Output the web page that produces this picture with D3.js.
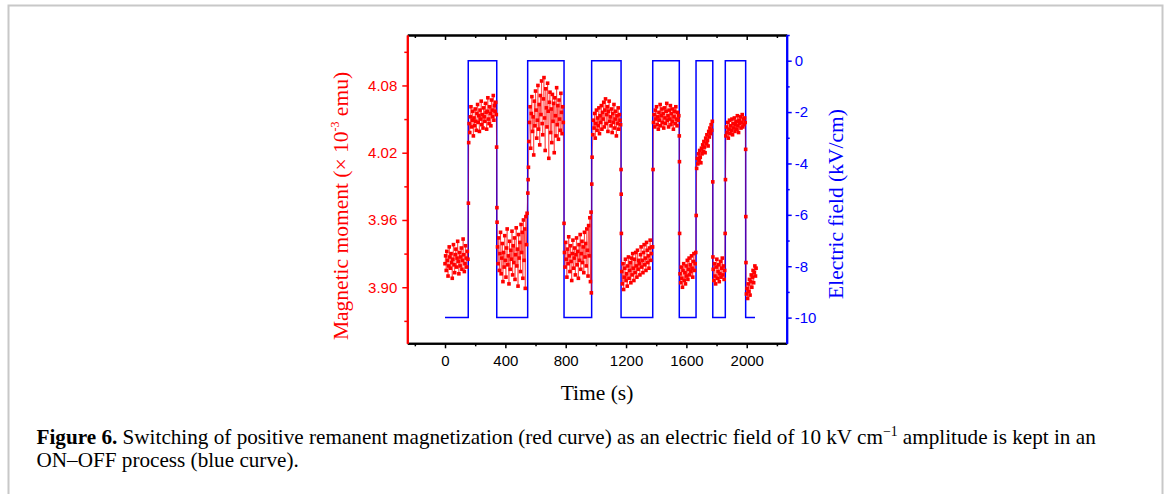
<!DOCTYPE html>
<html><head><meta charset="utf-8">
<script src="https://cdn.jsdelivr.net/npm/d3@7"></script>
<style>body{margin:0;background:#fff} svg{display:block}</style>
</head><body><svg id="c" width="1168" height="494"></svg>
<script>
// ---- data ----
const time = [
  0,4,8,12,16,20,24,28,32,36,40,44,48,52,56,60,64,68,72,76,80,84,88,92,96,100,104,108,112,116,120,124,128,132,136,140,144,148,152,
  155,157,
  160,164,168,172,176,180,184,188,192,196,200,204,208,212,216,220,224,228,232,236,240,244,248,252,256,260,264,268,272,276,280,284,288,292,296,300,304,308,312,316,320,324,328,332,336,340,
  342,344,345,
  348,352,356,360,364,368,372,376,380,384,388,392,396,400,404,408,412,416,420,424,428,432,436,440,444,448,452,456,460,464,468,472,476,480,484,488,492,496,500,504,508,512,516,520,524,528,532,536,540,544,
  549,551,553,
  556,560,564,568,572,576,580,584,588,592,596,600,604,608,612,616,620,624,628,632,636,640,644,648,652,656,660,664,668,672,676,680,684,688,692,696,700,704,708,712,716,720,724,728,732,736,740,744,748,752,756,760,764,768,772,776,780,784,
  789,
  792,796,800,804,808,812,816,820,824,828,832,836,840,844,848,852,856,860,864,868,872,876,880,884,888,892,896,900,904,908,912,916,920,924,928,932,936,940,944,948,952,956,960,964,968,
  970,973,975,
  980,984,988,992,996,1000,1004,1008,1012,1016,1020,1024,1028,1032,1036,1040,1044,1048,1052,1056,1060,1064,1068,1072,1076,1080,1084,1088,1092,1096,1100,1104,1108,1112,1116,1120,1124,1128,1132,1136,1140,1144,1148,1152,1156,1160,1164,
  1167,1168,1169,
  1172,1176,1180,1184,1188,1192,1196,1200,1204,1208,1212,1216,1220,1224,1228,1232,1236,1240,1244,1248,1252,1256,1260,1264,1268,1272,1276,1280,1284,1288,1292,1296,1300,1304,1308,1312,1316,1320,1324,1328,1332,1336,1340,1344,1348,1352,1356,1360,1364,1368,1372,
  1376,1379,
  1382,1386,1390,1394,1398,1402,1406,1410,1414,1418,1422,1426,1430,1434,1438,1442,1446,1450,1454,1458,1462,1466,1470,1474,1478,1482,1486,1490,1494,1498,1502,1506,1510,1514,1518,1522,1526,1530,1534,1538,1542,1546,1550,
  1553,1554,1555,
  1558,1562,1566,1570,1574,1578,1582,1586,1590,1594,1598,1602,1606,1610,1614,1618,1622,1626,1630,1634,1638,1642,1646,1650,1654,1658,1662,
  1665,
  1668,1672,1676,1680,1684,1688,1692,1696,1700,1704,1708,1712,1716,1720,1724,1728,1732,1736,1740,1744,1748,1752,1756,1760,1764,1768,1772,
  1775,1776,
  1778,1782,1786,1790,1794,1798,1802,1806,1810,1814,1818,1822,1826,1830,1834,1838,1842,1846,1850,1854,
  1857,1859,
  1862,1866,1870,1874,1878,1882,1886,1890,1894,1898,1902,1906,1910,1914,1918,1922,1926,1930,1934,1938,1942,1946,1950,1954,1958,1962,1966,1970,1974,1978,1982,1986,1990,
  1993,1994,1995,
  1998,2002,2006,2010,2014,2018,2022,2026,2030,2034,2038,2042,2046,2050,2054,2058,2062
];
const moment = [
  3.921,3.928,3.915,3.932,3.924,3.910,3.919,3.936,3.927,3.917,
  3.930,3.922,3.908,3.925,3.938,3.920,3.913,3.929,3.934,3.918,
  3.926,3.941,3.923,3.912,3.931,3.919,3.927,3.935,3.916,3.924,
  3.943,3.929,3.914,3.921,3.937,3.926,3.918,3.932,3.925,
  3.975,4.029,
  4.046,4.038,4.052,4.061,4.043,4.049,4.057,4.035,4.051,4.044,
  4.059,4.048,4.040,4.055,4.063,4.047,4.053,4.039,4.058,4.050,
  4.066,4.045,4.054,4.042,4.060,4.052,4.048,4.064,4.056,4.041,
  4.057,4.069,4.050,4.046,4.061,4.055,4.044,4.067,4.058,4.052,
  4.071,4.049,4.062,4.057,4.065,4.054,
  4.025,3.971,3.958,
  3.936,3.921,3.944,3.915,3.930,3.949,3.912,3.926,3.939,3.905,
  3.931,3.918,3.946,3.924,3.909,3.935,3.952,3.920,3.928,3.903,
  3.941,3.916,3.933,3.925,3.950,3.911,3.937,3.922,3.944,3.907,
  3.929,3.953,3.919,3.934,3.901,3.947,3.926,3.940,3.914,3.956,
  3.931,3.949,3.908,3.960,3.924,3.952,3.899,3.963,3.938,3.966,
  3.984,3.996,4.007,
  4.030,4.047,4.061,4.024,4.055,4.070,4.039,4.052,4.018,4.066,
  4.044,4.075,4.058,4.033,4.049,4.080,4.041,4.063,4.027,4.071,
  4.054,4.084,4.046,4.036,4.068,4.087,4.051,4.022,4.077,4.060,
  4.043,4.082,4.057,4.015,4.065,4.074,4.038,4.059,4.029,4.072,
  4.048,4.064,4.020,4.069,4.053,4.035,4.078,4.045,4.062,4.032,
  4.067,4.050,4.040,4.073,4.056,4.037,4.061,4.047,
  3.957,
  3.931,3.918,3.940,3.925,3.909,3.934,3.921,3.945,3.928,3.914,
  3.937,3.923,3.906,3.930,3.942,3.917,3.926,3.935,3.911,3.929,
  3.944,3.920,3.932,3.908,3.938,3.924,3.947,3.916,3.930,3.941,
  3.922,3.936,3.913,3.949,3.927,3.939,3.919,3.952,3.933,3.910,
  3.955,3.928,3.962,3.905,3.967,
  3.895,3.992,4.016,
  4.036,4.049,4.042,4.055,4.033,4.046,4.058,4.040,4.051,4.044,
  4.060,4.037,4.053,4.047,4.062,4.041,4.056,4.050,4.065,4.043,
  4.058,4.068,4.046,4.054,4.061,4.039,4.057,4.066,4.048,4.052,
  4.044,4.059,4.038,4.055,4.047,4.063,4.042,4.050,4.057,4.035,
  4.053,4.046,4.060,4.041,4.054,4.049,4.045,
  4.005,3.983,3.948,
  3.914,3.903,3.921,3.898,3.909,3.917,3.925,3.906,3.912,3.901,
  3.919,3.927,3.908,3.915,3.922,3.904,3.926,3.911,3.930,3.917,
  3.906,3.925,3.913,3.931,3.919,3.909,3.933,3.916,3.924,3.921,
  3.911,3.929,3.936,3.918,3.924,3.913,3.931,3.938,3.920,3.926,
  3.915,3.940,3.933,3.922,3.928,3.917,3.935,3.942,3.924,3.930,
  3.936,
  3.936,4.005,
  4.047,4.054,4.043,4.058,4.050,4.061,4.045,4.052,4.041,4.056,
  4.049,4.063,4.044,4.053,4.059,4.047,4.055,4.042,4.060,4.051,
  4.046,4.057,4.064,4.049,4.053,4.043,4.058,4.050,4.062,4.045,
  4.055,4.048,4.059,4.041,4.052,4.057,4.046,4.061,4.050,4.044,
  4.056,4.049,4.053,
  4.035,4.012,3.948,
  3.912,3.904,3.918,3.908,3.900,3.915,3.921,3.906,3.913,3.903,
  3.919,3.910,3.924,3.907,3.916,3.926,3.911,3.920,3.914,3.928,
  3.917,3.909,3.923,3.930,3.915,3.921,3.931,
  3.964,
  4.006,4.015,4.010,4.019,4.013,4.022,4.016,4.011,4.024,4.019,
  4.027,4.021,4.030,4.025,4.020,4.033,4.028,4.036,4.031,4.026,
  4.039,4.034,4.042,4.037,4.045,4.040,4.048,
  3.994,3.927,
  3.916,3.906,3.921,3.910,3.903,3.918,3.925,3.908,3.914,3.920,
  3.905,3.912,3.923,3.909,3.917,3.926,3.911,3.919,3.907,3.915,
  3.948,3.996,
  4.035,4.043,4.038,4.047,4.033,4.041,4.049,4.037,4.044,4.040,
  4.050,4.036,4.046,4.042,4.051,4.039,4.045,4.048,4.041,4.053,
  4.044,4.038,4.049,4.046,4.052,4.042,4.047,4.054,4.043,4.050,
  4.045,4.051,4.047,
  4.023,3.963,3.922,
  3.894,3.899,3.890,3.903,3.896,3.907,3.893,3.905,3.911,3.900,
  3.909,3.915,3.904,3.913,3.919,3.910,3.917
];
const fieldTime  = [0,154,154,343,343,548,548,789,789,972,972,1167,1167,1377,1377,1553,1553,1664,1664,1775,1775,1858,1858,1993,1993,2055];
const fieldValue = [-10,-10,0,0,-10,-10,0,0,-10,-10,0,0,-10,-10,0,0,-10,-10,0,0,-10,-10,0,0,-10,-10];

const xTicks = [0,400,800,1200,1600,2000];
const xMinor = [-200,200,600,1000,1400,1800,2200];
const leftTicks = [3.90,3.96,4.02,4.08];
const leftMinor = [3.87,3.93,3.99,4.05,4.11];
const rightTicks = [0,-2,-4,-6,-8,-10];
const rightMinor = [1,-1,-3,-5,-7,-9];

if (time.length !== moment.length) throw new Error("length mismatch " + time.length + " vs " + moment.length);

// ---- drawing ----
const svg = d3.select("#c");
const L = 407.3, R = 786.7, T = 35, B = 343.3;
const RED = "#ff0000", BLUE = "#0000ff";
const x = d3.scaleLinear().domain([-250, 2265]).range([L, R]);
const yL = d3.scaleLinear().domain([3.85, 4.125]).range([B, T]);
const yR = d3.scaleLinear().domain([-11, 1]).range([B, T]);

// outer frame
svg.append("rect").attr("x", 8.5).attr("y", 5.5).attr("width", 1154).attr("height", 520)
  .attr("fill", "none").attr("stroke", "#c8c8c8").attr("stroke-width", 2);

const tickFont = "'Liberation Sans', Arial, sans-serif";
const serif = "'Liberation Serif', 'Times New Roman', serif";

function style(g, color, sw) {
  g.select(".domain").attr("stroke", color).attr("stroke-width", sw);
  g.selectAll(".tick line").attr("stroke", color).attr("stroke-width", 1.5);
  g.selectAll(".tick text").attr("fill", color).attr("font-family", tickFont).attr("font-size", 15);
}

// field square wave (blue)
const fieldData = fieldTime.map((t, i) => [t, fieldValue[i]]);
svg.append("path").datum(fieldData)
  .attr("d", d3.line().x(d => x(d[0])).y(d => yR(d[1])))
  .attr("fill", "none").attr("stroke", BLUE).attr("stroke-width", 1.5);

// magnetic moment (red line + squares)
const mData = time.map((t, i) => [t, moment[i]]);
svg.append("path").datum(mData)
  .attr("d", d3.line().x(d => x(d[0])).y(d => yL(d[1])))
  .attr("fill", "none").attr("stroke", RED).attr("stroke-width", 0.5);
svg.append("g").selectAll("rect").data(mData).join("rect")
  .attr("x", d => x(d[0]) - 1.8).attr("y", d => yL(d[1]) - 1.8)
  .attr("width", 3.6).attr("height", 3.6).attr("fill", RED);

// bottom axis
const gB = svg.append("g").attr("transform", `translate(0,${B})`)
  .call(d3.axisBottom(x).tickValues(xTicks).tickSize(5).tickSizeOuter(0).tickPadding(7).tickFormat(d3.format("d")));
style(gB, "#000", 2);
const gBm = svg.append("g").attr("transform", `translate(0,${B})`)
  .call(d3.axisBottom(x).tickValues(xMinor).tickSize(3).tickSizeOuter(0).tickFormat(""));
style(gBm, "#000", 2);
// top axis (ticks inward)
const gT = svg.append("g").attr("transform", `translate(0,${T})`)
  .call(d3.axisTop(x).tickValues(xTicks).tickSize(-5).tickSizeOuter(0).tickFormat(""));
style(gT, "#000", 2);
const gTm = svg.append("g").attr("transform", `translate(0,${T})`)
  .call(d3.axisTop(x).tickValues(xMinor).tickSize(-3).tickSizeOuter(0).tickFormat(""));
style(gTm, "#000", 2);
// left axis
const gL = svg.append("g").attr("transform", `translate(${L},0)`)
  .call(d3.axisLeft(yL).tickValues(leftTicks).tickSize(5).tickSizeOuter(0).tickPadding(5).tickFormat(d3.format(".2f")));
style(gL, RED, 2);
const gLm = svg.append("g").attr("transform", `translate(${L},0)`)
  .call(d3.axisLeft(yL).tickValues(leftMinor).tickSize(3).tickSizeOuter(0).tickFormat(""));
style(gLm, RED, 2);
// right axis
const gR = svg.append("g").attr("transform", `translate(${R},0)`)
  .call(d3.axisRight(yR).tickValues(rightTicks).tickSize(5).tickSizeOuter(0).tickPadding(3).tickFormat(d => String(d)));
style(gR, BLUE, 2);
const gRm = svg.append("g").attr("transform", `translate(${R},0)`)
  .call(d3.axisRight(yR).tickValues(rightMinor).tickSize(3).tickSizeOuter(0).tickFormat(""));
style(gRm, BLUE, 2);

// axis titles
const lt = svg.append("text").attr("transform", "translate(348,206) rotate(-90)")
  .attr("text-anchor", "middle").attr("font-family", serif).attr("font-size", 21.5).attr("fill", RED);
lt.append("tspan").text("Magnetic moment (× 10");
lt.append("tspan").attr("font-size", 12).attr("dy", -9).text("-3");
lt.append("tspan").attr("dy", 9).text(" emu)");

svg.append("text").attr("transform", "translate(843,204) rotate(-90)")
  .attr("text-anchor", "middle").attr("font-family", serif).attr("font-size", 21.5).attr("fill", BLUE)
  .text("Electric field (kV/cm)");

svg.append("text").attr("x", 597).attr("y", 400).attr("text-anchor", "middle")
  .attr("font-family", serif).attr("font-size", 21.5).attr("fill", "#000").text("Time (s)");

// caption
const cap1 = svg.append("text").attr("x", 36.5).attr("y", 444).attr("font-family", serif).attr("font-size", 20).attr("fill", "#000");
cap1.append("tspan").attr("font-weight", "bold").text("Figure 6.");
cap1.append("tspan").text(" Switching of positive remanent magnetization (red curve) as an electric field of 10 kV cm");
const sup = cap1.append("tspan").attr("font-size", 13).attr("dy", -8).text("−1");
cap1.append("tspan").attr("dy", 8).text(" amplitude is kept in an");
const cap2 = svg.append("text").attr("x", 36.5).attr("y", 467).attr("font-family", serif).attr("font-size", 20).attr("fill", "#000")
  .text("ON–OFF process (blue curve).");
// fit caption line width to the reference line length
const w = cap1.node().getComputedTextLength();
const fs = 20 * 1060 / w;
cap1.attr("font-size", fs); cap2.attr("font-size", fs);
sup.attr("font-size", fs * 0.65);
</script></body></html>
